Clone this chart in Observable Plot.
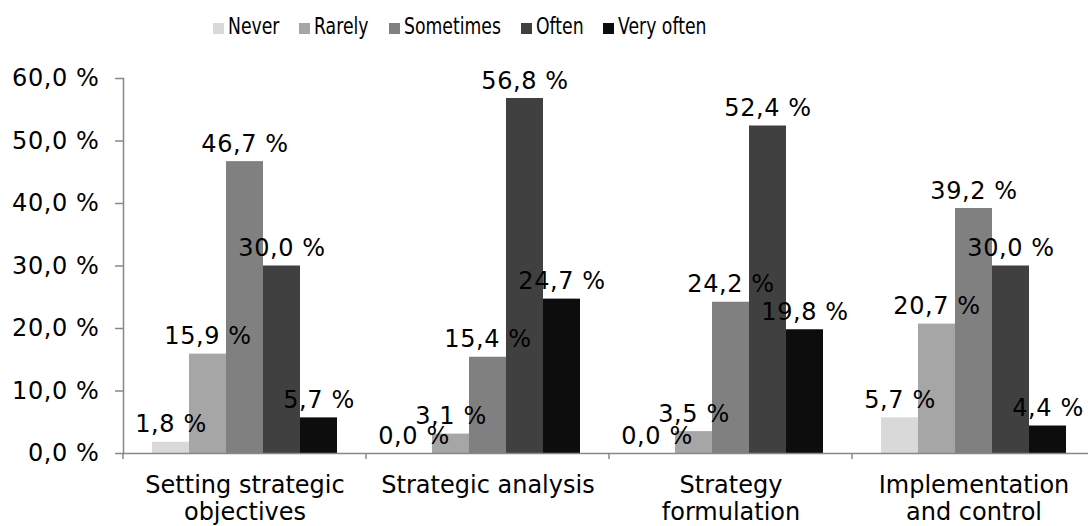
<!DOCTYPE html>
<html>
<head>
<meta charset="utf-8">
<script src="https://cdn.jsdelivr.net/npm/d3@7"></script>
<script src="https://cdn.jsdelivr.net/npm/@observablehq/plot@0.6"></script>
<style>
  html, body { margin: 0; padding: 0; background: #fff; overflow: hidden; }
  #chart { width: 1088px; }
  .legend {
    display: flex; align-items: flex-start; height: 50px; box-sizing: border-box;
    padding: 15px 0 0 213px; font-family: "DejaVu Sans", sans-serif; font-size: 23px; color: #000;
  }
  .legend .item { display: flex; align-items: flex-start; margin-right: 20px; }
  .legend .swatch { width: 11px; height: 11px; margin: 8px 4px 0 0; flex: none; }
  .legend .label { display: inline-block; line-height: 23px; white-space: nowrap;
    transform: scaleX(0.75); transform-origin: left center; }
  #chart svg { display: block; }
</style>
</head>
<body>
<div id="chart"></div>
<script>
// Survey groups, answer categories and the share of answers (%) per category.
const groups = ["Setting strategic objectives", "Strategic analysis", "Strategy formulation", "Implementation and control"];
const groupLabels = ["Setting strategic\nobjectives", "Strategic analysis", "Strategy\nformulation", "Implementation\nand control"];
const categories = ["Never", "Rarely", "Sometimes", "Often", "Very often"];
const never = [1.8, 0.0, 0.0, 5.7];
const rarely = [15.9, 3.1, 3.5, 20.7];
const sometimes = [46.7, 15.4, 24.2, 39.2];
const often = [30.0, 56.8, 52.4, 30.0];
const veryOften = [5.7, 24.7, 19.8, 4.4];
const colors = ["#d9d9d9", "#a6a6a6", "#808080", "#404040", "#0d0d0d"];
const yTicks = [0, 10, 20, 30, 40, 50, 60];

const series = [never, rarely, sometimes, often, veryOften];
const rows = groups.flatMap((group, gi) =>
  categories.map((category, ci) => ({group, category, value: series[ci][gi]}))
);

// Decimal comma, as in "46,7 %"
const pct = (v) => d3.format(".1f")(v).replace(".", ",") + " %";

const axisColor = "#888";

const plot = Plot.plot({
  width: 1088,
  height: 476,
  marginTop: 28,
  marginBottom: 73,
  marginLeft: 122,
  marginRight: -7,
  style: {fontFamily: "DejaVu Sans, sans-serif", fontSize: "24px", color: "#000", background: "#fff", overflow: "visible"},
  fx: {domain: groups, padding: 0, label: null, axis: null},
  x: {domain: categories, paddingInner: 0, paddingOuter: 0.75, axis: null},
  y: {domain: [0, 60], label: null, axis: null},
  color: {domain: categories, range: colors},
  marks: [
    Plot.barY(rows, {fx: "group", x: "category", y: "value", fill: "category"}),
    Plot.ruleY([0], {stroke: axisColor, strokeWidth: 1.5}),
    Plot.frame({anchor: "left", stroke: axisColor, strokeWidth: 1.5, facetAnchor: "left"}),
    Plot.text(rows, {fx: "group", x: "category", y: "value", text: (d) => pct(d.value),
      lineAnchor: "bottom", dy: -10, fill: "#000"}),
    Plot.axisY({ticks: yTicks, tickFormat: pct, tickSize: 8, tickPadding: 16,
      stroke: axisColor, strokeWidth: 1.5, fill: "#000", label: null}),
    Plot.axisFx({anchor: "bottom", tickSize: 0, tickPadding: 21, lineHeight: 1.1, fill: "#000", label: null,
      tickFormat: (d) => groupLabels[groups.indexOf(d)]})
  ]
});

// Slightly wider spacing for the numeric labels
d3.select(plot)
  .selectAll('g[aria-label="text"], g[aria-label="y-axis tick label"]')
  .attr("letter-spacing", "0.6px");

// Short ticks below the baseline at the group boundaries
const fx = plot.scale("fx");
const y = plot.scale("y");
const y0 = y.apply(0);
const edges = groups.map((g) => fx.apply(g));
edges.push(fx.apply(groups[groups.length - 1]) + fx.bandwidth);
d3.select(plot).append("g")
  .attr("stroke", axisColor).attr("stroke-width", 1.5)
  .selectAll("line").data(edges).join("line")
  .attr("x1", (d) => d).attr("x2", (d) => d)
  .attr("y1", y0).attr("y2", y0 + 6);

// Legend built from the plot's color scale
const color = plot.scale("color");
const legend = document.createElement("div");
legend.className = "legend";
color.domain.forEach((c) => {
  const item = document.createElement("div");
  item.className = "item";
  const sw = document.createElement("span");
  sw.className = "swatch";
  sw.style.background = color.apply(c);
  const lab = document.createElement("span");
  lab.className = "label";
  lab.textContent = c;
  item.append(sw, lab);
  legend.append(item);
});

const chart = document.getElementById("chart");
chart.append(legend, plot);

// Legend labels are horizontally condensed; pull the layout in to the condensed width
legend.querySelectorAll(".label").forEach((el) => {
  el.style.marginRight = (-(1 - 0.75) * el.offsetWidth) + "px";
});
</script>
</body>
</html>
